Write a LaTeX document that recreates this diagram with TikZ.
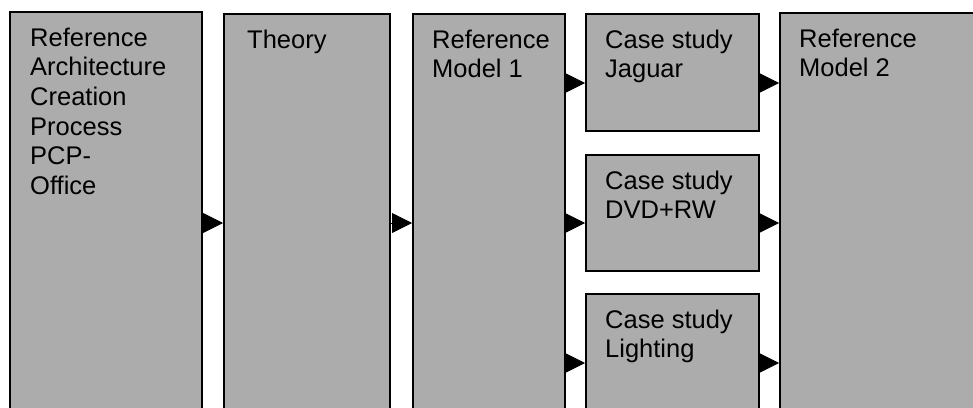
\documentclass[tikz,border=0pt]{standalone}
\usepackage{fontspec}
\setmainfont{Liberation Sans}
\usetikzlibrary{arrows.meta,calc}
\definecolor{boxgray}{RGB}{172,172,172}
\tikzset{
  box/.style={draw=black, line width=1.6pt, fill=boxgray, inner sep=0pt, anchor=north west, rectangle},
  txt/.style={anchor=north west, inner sep=0pt, align=left, text=black,
    font=\fontsize{25.5}{29.6}\selectfont},
  arr/.style={line width=0.8pt, -{Triangle[length=20pt,width=20pt]}}
}
\newcommand{\firstln}{\rule{0pt}{20pt}}
\begin{document}
\begin{tikzpicture}[x=1pt,y=1pt]
\useasboundingbox (0,0) rectangle (973,-407);
\clip (0,0) rectangle (973,-407);
% boxes
\node[box, minimum width=192pt, minimum height=409pt] (b1) at (9,-11) {};
\node[box, minimum width=166pt, minimum height=407pt] (b2) at (223,-13) {};
\node[box, minimum width=152pt, minimum height=407pt] (b3) at (412,-13) {};
\node[box, minimum width=173pt, minimum height=117pt] (c1) at (585,-13) {};
\node[box, minimum width=173pt, minimum height=116pt] (c2) at (585,-154) {};
\node[box, minimum width=173pt, minimum height=127pt] (c3) at (585,-293) {};
\node[box, minimum width=211pt, minimum height=408pt] (b5) at (779,-12) {};
% texts
\node[txt] (t1) at ($(b1.north west)+(21,-15)$) {\firstln Reference\\Architecture\\Creation\\Process\\PCP-\\Office};
\node[txt] (t2) at ($(b2.north west)+(24,-15)$) {\firstln Theory};
\node[txt] (t3) at ($(b3.north west)+(20,-15)$) {\firstln Reference\\Model 1};
\node[txt] (t4) at ($(c1.north west)+(20,-15)$) {\firstln Case study\\Jaguar};
\node[txt] (t5) at ($(c2.north west)+(20,-15)$) {\firstln Case study\\DVD+RW};
\node[txt] (t6) at ($(c3.north west)+(20,-15)$) {\firstln Case study\\Lighting};
\node[txt] (t7) at ($(b5.north west)+(20,-15)$) {\firstln Reference\\Model 2};
% arrow rows
\coordinate (ytop) at (0,-83);
\coordinate (ymid) at (0,-223);
\coordinate (ybot) at (0,-363);
\draw[arr] (b1.east |- ymid) -- (b2.west |- ymid);
\draw[arr] (b2.east |- ymid) -- (b3.west |- ymid);
\draw[arr] (b3.east |- ytop) -- (c1.west |- ytop);
\draw[arr] (b3.east |- ymid) -- (c2.west |- ymid);
\draw[arr] (b3.east |- ybot) -- (c3.west |- ybot);
\draw[arr] (c1.east |- ytop) -- (b5.west |- ytop);
\draw[arr] (c2.east |- ymid) -- (b5.west |- ymid);
\draw[arr] (c3.east |- ybot) -- (b5.west |- ybot);
\end{tikzpicture}
\end{document}
